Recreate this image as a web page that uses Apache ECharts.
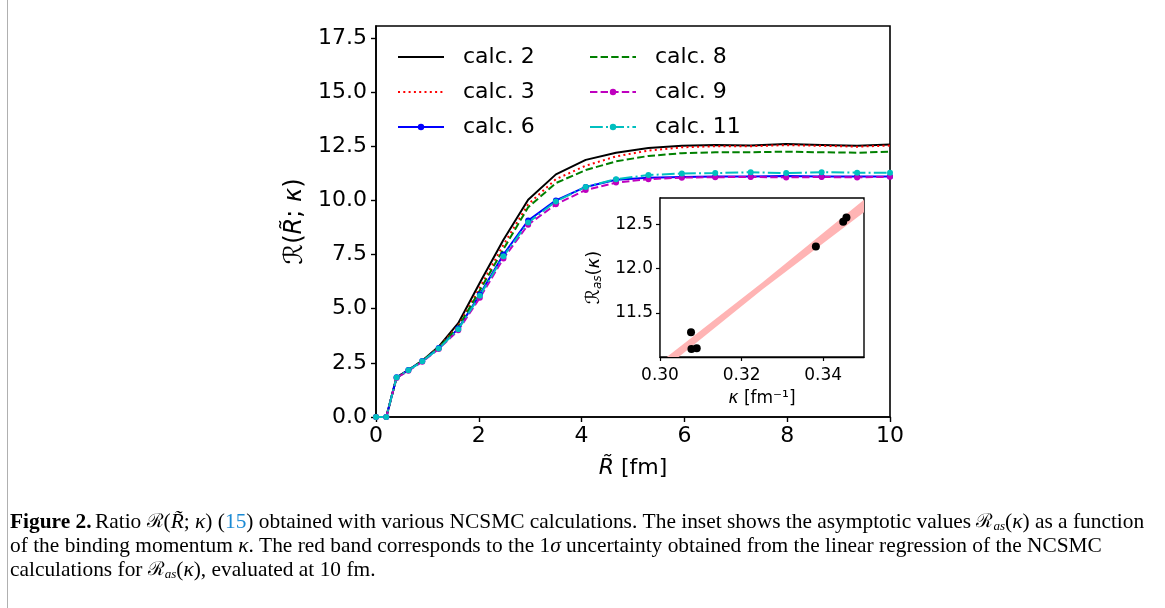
<!DOCTYPE html>
<html><head><meta charset="utf-8">
<script src="https://cdn.jsdelivr.net/npm/echarts@6/dist/echarts.min.js"></script>
<style>html,body{margin:0;padding:0;background:#fff}#c{width:1165px;height:608px}</style>
</head><body><div id="c"></div>
<script>
// ---- main panel data (R~ in fm) ----
const R      = [0, 0.2, 0.4, 0.63, 0.9, 1.22, 1.6, 2.02, 2.48, 2.96, 3.5, 4.08, 4.67, 5.3, 5.95, 6.6, 7.29, 7.98, 8.67, 9.36, 10];
const calc2  = [0, 0, 1.83, 2.17, 2.6, 3.25, 4.33, 6.2, 8.18, 10.03, 11.2, 11.87, 12.2, 12.42, 12.52, 12.56, 12.53, 12.6, 12.56, 12.52, 12.58];
const calc3  = [0, 0, 1.82, 2.16, 2.59, 3.22, 4.22, 5.98, 7.95, 9.82, 10.98, 11.6, 12.03, 12.3, 12.45, 12.5, 12.5, 12.55, 12.52, 12.48, 12.53];
const calc6  = [0, 0, 1.83, 2.17, 2.58, 3.18, 4.08, 5.65, 7.5, 9.07, 10.0, 10.62, 10.95, 11.05, 11.08, 11.1, 11.1, 11.12, 11.1, 11.1, 11.1];
const calc8  = [0, 0, 1.82, 2.16, 2.59, 3.2, 4.15, 5.85, 7.75, 9.68, 10.8, 11.4, 11.8, 12.05, 12.18, 12.22, 12.22, 12.25, 12.22, 12.2, 12.25];
const calc9  = [0, 0, 1.8, 2.13, 2.55, 3.14, 4.0, 5.5, 7.32, 8.88, 9.82, 10.48, 10.82, 10.98, 11.05, 11.07, 11.08, 11.06, 11.08, 11.06, 11.09];
const calc11 = [0, 0, 1.82, 2.16, 2.57, 3.16, 4.05, 5.6, 7.42, 8.98, 9.95, 10.62, 10.98, 11.17, 11.24, 11.26, 11.3, 11.26, 11.3, 11.28, 11.28];
const xTicks = [0, 2, 4, 6, 8, 10];
const yTicks = [0, 2.5, 5, 7.5, 10, 12.5, 15, 17.5];

// ---- inset data ----
const kappa = [0.3457, 0.3449, 0.3090, 0.3382, 0.3077, 0.3076];
const Ras   = [12.58, 12.53, 11.10, 12.25, 11.09, 11.28];
const bandK  = [0.30, 0.325, 0.35];
const bandLo = [10.83, 11.76, 12.64];
const bandHi = [10.94, 11.84, 12.78];
const insetXTicks = [0.30, 0.32, 0.34];
const insetYTicks = [11.5, 12.0, 12.5];

const FONT = 'DejaVu Sans';
const SERIF = 'Liberation Serif';
const chart = echarts.init(document.getElementById('c'), null, {renderer: 'canvas'});
const pair = arr => R.map((r, i) => [r, arr[i]]);

function lineSeries(name, arr, color, type, marker) {
  return {
    name, type: 'line', xAxisIndex: 0, yAxisIndex: 0, data: pair(arr),
    symbol: marker ? 'circle' : 'none', symbolSize: 6, showSymbol: !!marker,
    itemStyle: {color}, lineStyle: {color, width: 2, type},
    animation: false, silent: true
  };
}

const axisCommon = {
  axisLine: {show: true, onZero: false, lineStyle: {color: '#000', width: 1.6}},
  splitLine: {show: false}
};

const legendText = {color: '#000', fontSize: 22, fontFamily: FONT, lineHeight: 22, padding: [0, 0, 0, 14]};
const noMark = {opacity: 0};

const CAP = 21.4;
const capRich = {
  b: {fontFamily: SERIF, fontSize: CAP, fontWeight: 'bold', fill: '#000'},
  n: {fontFamily: SERIF, fontSize: CAP, fill: '#000'},
  i: {fontFamily: SERIF, fontSize: CAP, fontStyle: 'italic', fill: '#000'},
  c: {fontFamily: 'DejaVu Serif', fontSize: 19, fill: '#000'},
  s: {fontFamily: SERIF, fontSize: 13, fontStyle: 'italic', fill: '#000', padding: [8, 0, 0, 0]},
  u: {fontFamily: SERIF, fontSize: CAP, fill: '#1a8ad4'}
};

const option = {
  backgroundColor: '#fff',
  animation: false,
  grid: [
    {left: 376, right: 275, top: 26, bottom: 191, show: true, borderColor: '#000', borderWidth: 1.6, outerBoundsMode: 'none'},
    {left: 660, top: 198, width: 204, height: 159, show: true, borderColor: '#000', borderWidth: 1.4, backgroundColor: '#fff', z: 5, outerBoundsMode: 'none'}
  ],
  xAxis: [
    Object.assign({}, axisCommon, {
      type: 'value', gridIndex: 0, min: 0, max: 10,
      axisTick: {customValues: xTicks, length: 5, lineStyle: {color: '#000', width: 1.4}},
      axisLabel: {customValues: xTicks, color: '#000', fontSize: 22, fontFamily: FONT, margin: 8, formatter: v => String(v)},
      name: '{i|R\u0303}{n| [fm]}', nameLocation: 'middle', nameGap: 40,
      nameTextStyle: {color: '#000', fontSize: 22, fontFamily: FONT,
        rich: {n: {fontSize: 22, fontFamily: FONT}, i: {fontSize: 22, fontFamily: FONT, fontStyle: 'italic'}}}
    }),
    Object.assign({}, axisCommon, {
      type: 'value', gridIndex: 1, min: 0.30, max: 0.35,
      axisLine: {show: true, onZero: false, lineStyle: {color: '#000', width: 1.4}},
      axisTick: {customValues: insetXTicks, length: 4, lineStyle: {color: '#000', width: 1.2}},
      axisLabel: {customValues: insetXTicks, color: '#000', fontSize: 17, fontFamily: FONT, margin: 10, formatter: v => v.toFixed(2)},
      name: '{i|\u03BA}{n| [fm\u207B\u00B9]}', nameLocation: 'middle', nameGap: 33,
      nameTextStyle: {color: '#000', fontSize: 17, fontFamily: FONT,
        rich: {n: {fontSize: 17, fontFamily: FONT}, i: {fontSize: 17, fontFamily: FONT, fontStyle: 'italic'}}}
    })
  ],
  yAxis: [
    Object.assign({}, axisCommon, {
      type: 'value', gridIndex: 0, min: 0, max: 18.05,
      axisTick: {customValues: yTicks, length: 5, lineStyle: {color: '#000', width: 1.4}},
      axisLabel: {customValues: yTicks, color: '#000', fontSize: 22, fontFamily: FONT, margin: 9, formatter: v => v.toFixed(1)},
      name: '{c|\u211B}{n|(}{i|R\u0303}{n|; }{i|\u03BA}{n|)}', nameLocation: 'middle', nameGap: 68,
      nameTextStyle: {color: '#000', fontSize: 24, fontFamily: FONT,
        rich: {c: {fontSize: 26, fontFamily: FONT}, n: {fontSize: 24, fontFamily: FONT}, i: {fontSize: 24, fontFamily: FONT, fontStyle: 'italic'}}}
    }),
    Object.assign({}, axisCommon, {
      type: 'value', gridIndex: 1, min: 11.0, max: 12.8,
      axisLine: {show: true, onZero: false, lineStyle: {color: '#000', width: 1.4}},
      axisTick: {customValues: insetYTicks, length: 4, lineStyle: {color: '#000', width: 1.2}},
      axisLabel: {customValues: insetYTicks, color: '#000', fontSize: 17, fontFamily: FONT, margin: 7, formatter: v => v.toFixed(1)},
      name: '{c|\u211B}{s|as}{n|(}{i|\u03BA}{n|)}', nameLocation: 'middle', nameGap: 56,
      nameTextStyle: {color: '#000', fontSize: 18, fontFamily: FONT,
        rich: {c: {fontSize: 19, fontFamily: FONT}, s: {fontSize: 12, fontFamily: FONT, fontStyle: 'italic', padding: [8, 0, 0, 0]},
               n: {fontSize: 18, fontFamily: FONT}, i: {fontSize: 18, fontFamily: FONT, fontStyle: 'italic'}}}
    })
  ],
  legend: [
    {data: [{name: 'calc. 2', itemStyle: noMark}, {name: 'calc. 3', itemStyle: noMark}, 'calc. 6'],
     orient: 'vertical', left: 397, top: 46, padding: 0,
     itemWidth: 46, itemHeight: 8, itemGap: 13, textStyle: legendText},
    {data: [{name: 'calc. 8', itemStyle: noMark}, 'calc. 9', 'calc. 11'],
     orient: 'vertical', left: 589, top: 46, padding: 0,
     itemWidth: 46, itemHeight: 8, itemGap: 13, textStyle: legendText}
  ],
  series: [
    lineSeries('calc. 2', calc2, '#000000', 'solid', false),
    lineSeries('calc. 3', calc3, '#ff0000', [2, 3.3], false),
    lineSeries('calc. 6', calc6, '#0000ff', 'solid', true),
    lineSeries('calc. 8', calc8, '#008000', [7.4, 3.2], false),
    lineSeries('calc. 9', calc9, '#bf00bf', [7.4, 3.2], true),
    lineSeries('calc. 11', calc11, '#00bfbf', [12.8, 3.2, 2, 3.2], true),
    {
      type: 'custom', xAxisIndex: 1, yAxisIndex: 1, clip: true, silent: true, z: 6,
      data: [[bandK[1], bandLo[1]]],
      renderItem: function (params, api) {
        const pts = [];
        for (let i = 0; i < bandK.length; i++) pts.push(api.coord([bandK[i], bandHi[i]]));
        for (let i = bandK.length - 1; i >= 0; i--) pts.push(api.coord([bandK[i], bandLo[i]]));
        return {type: 'polygon', shape: {points: pts}, style: {fill: '#ffb4b4'}};
      }
    },
    {
      type: 'scatter', xAxisIndex: 1, yAxisIndex: 1, z: 7, silent: true,
      data: kappa.map((k, i) => [k, Ras[i]]), symbolSize: 8, itemStyle: {color: '#000', opacity: 1}
    }
  ],
  graphic: [
    {type: 'line', shape: {x1: 7.5, y1: 0, x2: 7.5, y2: 608}, style: {stroke: '#b0b0b0', lineWidth: 1}},
    {type: 'text', x: 10, y: 512, style: {
      text: '{b|Figure 2.} {n|Ratio }{c|\u211B}{n|(}{i|R\u0303}{n|; }{i|\u03BA}{n|) (}{u|15}{n|) obtained with various NCSMC calculations. The inset shows the asymptotic values }{c|\u211B}{s|as}{n|(}{i|\u03BA}{n|) as a function}',
      rich: capRich}},
    {type: 'text', x: 10, y: 536, style: {
      text: '{n|of the binding momentum }{i|\u03BA}{n|. The red band corresponds to the 1}{i|\u03C3}{n| uncertainty obtained from the linear regression of the NCSMC}',
      rich: capRich}},
    {type: 'text', x: 10, y: 560, style: {
      text: '{n|calculations for }{c|\u211B}{s|as}{n|(}{i|\u03BA}{n|), evaluated at 10 fm.}',
      rich: capRich}}
  ]
};
chart.setOption(option);
</script>
</body></html>
